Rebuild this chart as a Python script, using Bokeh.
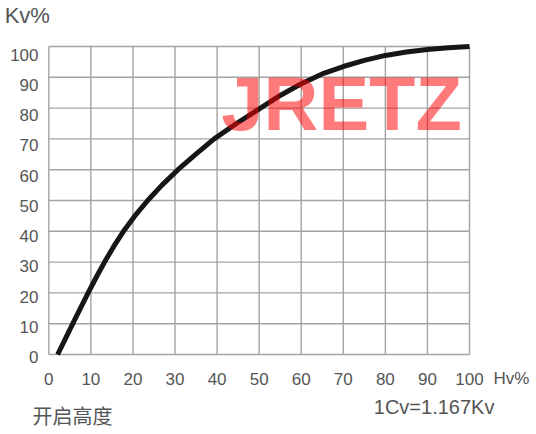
from bokeh.plotting import figure
from bokeh.models import Label, Range1d
from bokeh.core.properties import value
from bokeh.embed import file_html
from bokeh.resources import INLINE

# Opening height Hv% vs flow coefficient Kv%
hv = [2.1, 3.9, 5.7, 7.5, 9.35, 11.25, 13.25, 15.4, 17.75, 20.45, 23.5, 26.9, 30.7, 34.9,
      39.3, 44.6, 50.3, 55, 60, 65, 70, 75, 80, 85, 90, 95, 100]
kv = [0, 5, 10, 15, 20, 25, 30, 35, 40, 45, 50, 55, 60, 65,
      70, 75, 80, 84.1, 87.9, 91.1, 93.5, 95.5, 97.1, 98.2, 99.0, 99.6, 100]
ticks = list(range(0, 101, 10))
tick_labels = [str(t) for t in ticks]

FONT = "Liberation Sans"
TXT = "#555555"
GRID = "#a3a3a3"

W, H = 530, 432
X0, X100 = 48.3, 469.0      # pixel positions of x=0 and x=100
Y0, Y100 = 354.0, 46.0      # pixel positions of y=0 and y=100
sx = (X100 - X0) / 100.0
sy = (Y0 - Y100) / 100.0

p = figure(width=W, height=H, output_backend="svg", toolbar_location=None,
           x_range=Range1d(-X0 / sx, (W - X0) / sx),
           y_range=Range1d((Y0 - H) / sy, Y0 / sy),
           min_border=0)
p.axis.visible = False
p.grid.visible = False
p.outline_line_color = None
p.background_fill_color = "white"
p.border_fill_color = "white"

# grid
p.segment(x0=ticks, y0=[0] * len(ticks), x1=ticks, y1=[100] * len(ticks),
          line_color=GRID, line_width=1.4)
p.segment(x0=[0] * len(ticks), y0=ticks, x1=[100] * len(ticks), y1=ticks,
          line_color=GRID, line_width=1.4)

# tick labels
p.text(x=ticks, y=[-24.0 / sy] * len(ticks), text=tick_labels,
       text_font=value(FONT), text_font_size="17px", text_color=TXT,
       text_align="center", text_baseline="middle")
ylab_y = [t - (2.7 + 0.053 * t) / sy for t in ticks]
p.text(x=[-10.3 / sx] * len(ticks), y=ylab_y, text=tick_labels,
       text_font=value(FONT), text_font_size="17px", text_color=TXT,
       text_align="right", text_baseline="middle")

# curve
p.line(hv, kv, line_color="#161616", line_width=5, line_join="round")

# watermark logo
p.add_layout(Label(x=69.6, y=81.6, text="JRETZ", text_font=FONT, text_font_style="bold",
                   text_font_size="76px", text_color="#ff0000", text_alpha=0.52,
                   text_align="center", text_baseline="middle"))

p.add_layout(Label(x=-10.5, y=110, text="Kv%", text_font=FONT, text_font_size="22px",
                   text_color=TXT, text_align="left", text_baseline="middle"))
p.add_layout(Label(x=105.7, y=-7.8, text="Hv%", text_font=FONT, text_font_size="17px",
                   text_color=TXT, text_align="left", text_baseline="middle"))
p.add_layout(Label(x=77.25, y=-17.2, text="1Cv=1.167Kv", text_font=FONT,
                   text_font_size="20px", text_color=TXT, text_align="left",
                   text_baseline="middle"))
p.add_layout(Label(x=-3.9, y=-19.8, text="开启高度", text_font="Noto Sans CJK SC",
                   text_font_size="20px", text_color=TXT, text_align="left",
                   text_baseline="middle"))

open("out.html", "w").write(file_html(p, INLINE))
